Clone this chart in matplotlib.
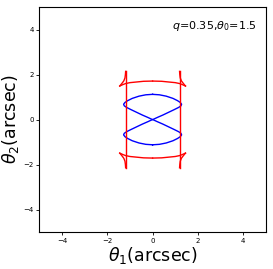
import numpy as np
import matplotlib
matplotlib.use("Agg")
import matplotlib.pyplot as plt

# critical curve (blue), upper-right quarter of the top lobe, top -> right -> origin
crit_x = np.array([0.0, 0.3, 0.6, 0.9, 1.1, 1.22, 1.28, 1.25, 1.15, 0.95, 0.7, 0.45, 0.2, 0.05, 0.0])
crit_y = np.array([1.12, 1.10, 1.04, 0.94, 0.84, 0.76, 0.68, 0.61, 0.54, 0.44, 0.32, 0.20, 0.09, 0.02, 0.0])

# caustic (red): straight side, arc and cusp branch (upper-right corner)
side_x = np.array([1.19, 1.19])
side_y = np.array([-2.14, 2.14])
arc_x = np.array([0.0, 0.4, 0.8, 1.0, 1.19, 1.32, 1.45])
arc_y = np.array([1.71, 1.70, 1.66, 1.64, 1.60, 1.55, 1.49])
cusp_x = np.array([1.45, 1.36, 1.27, 1.22, 1.20, 1.19])
cusp_y = np.array([1.49, 1.60, 1.72, 1.85, 2.00, 2.14])

label = r"$q$=0.35,$\theta_0$=1.5"

fig = plt.figure(figsize=(2.73, 2.69), dpi=100)
ax = fig.add_axes([0.144, 0.137, 0.830, 0.837])

# blue figure-eight
lobe_x = np.concatenate([crit_x, -crit_x[::-1]])
lobe_y = np.concatenate([crit_y, crit_y[::-1]])
ax.plot(lobe_x, lobe_y, color="blue", lw=1.0)
ax.plot(lobe_x, -lobe_y, color="blue", lw=1.0)

# red caustic, mirrored into the four corners
for sx in (1, -1):
    ax.plot(sx * side_x, side_y, color="red", lw=1.0)
    for sy in (1, -1):
        ax.plot(sx * arc_x, sy * arc_y, color="red", lw=1.0)
        ax.plot(sx * cusp_x, sy * cusp_y, color="red", lw=1.0)

ax.text(0.85, 4.15, label, fontsize=8, va="center")

ax.set_xlim(-5, 5)
ax.set_ylim(-5, 5)
ax.set_xticks([-4, -2, 0, 2, 4])
ax.set_yticks([-4, -2, 0, 2, 4])
ax.tick_params(labelsize=5, length=2, width=0.6, pad=2)
for s in ax.spines.values():
    s.set_linewidth(0.8)
ax.set_xlabel(r"$\theta_1$(arcsec)", fontsize=12.5, labelpad=1)
ax.set_ylabel(r"$\theta_2$(arcsec)", fontsize=12.5, labelpad=2)

fig.savefig("out.png", dpi=100)
